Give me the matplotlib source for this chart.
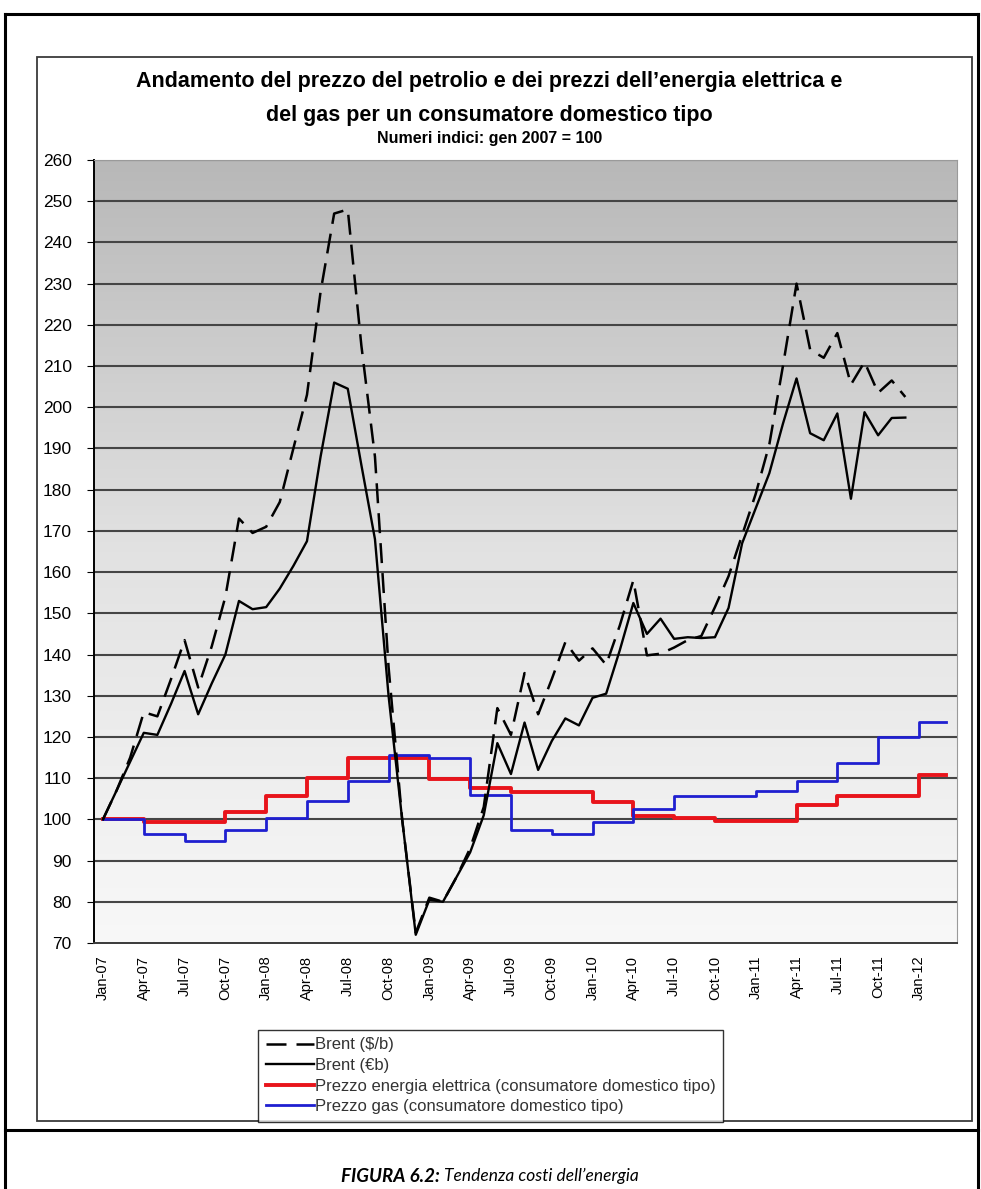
import matplotlib
matplotlib.use("Agg")
import matplotlib.pyplot as plt
import numpy as np
from matplotlib.colors import LinearSegmentedColormap
from matplotlib.lines import Line2D
from matplotlib.patches import Rectangle

W, H = 981, 1189

tick_labels = ["Jan-07", "Apr-07", "Jul-07", "Oct-07", "Jan-08", "Apr-08", "Jul-08",
               "Oct-08", "Jan-09", "Apr-09", "Jul-09", "Oct-09", "Jan-10", "Apr-10",
               "Jul-10", "Oct-10", "Jan-11", "Apr-11", "Jul-11", "Oct-11", "Jan-12"]

# monthly index values, Jan-07 .. Dec-11
brent_usd = [100, 107, 115, 126, 125, 134, 143.5, 132, 142, 154, 173, 169.5,
             171, 177, 190, 203, 228, 247, 248, 215, 188, 137, 100, 72.5,
             81, 80, 86, 93, 103, 127, 120.5, 135.5, 125.5, 134, 143, 138.5,
             141.5, 137.5, 147, 158, 139.8, 140.2, 141.7, 143.5, 144.5, 151.5, 159, 169,
             179, 191, 210, 230, 214, 212, 218, 205.5, 211, 203.5, 206.5, 202.5]
brent_eur = [100, 107, 114, 121, 120.5, 128, 136, 125.5, 133, 140, 153, 151,
             151.5, 156, 161.5, 167.5, 188, 206, 204.5, 186, 168, 130, 100, 72,
             80.5, 80, 86, 92, 101, 118.5, 111, 123.5, 112, 119, 124.5, 122.8,
             129.5, 130.5, 141, 152.5, 145, 148.7, 143.8, 144.2, 144, 144.2, 151.3, 167,
             175.5, 184, 196, 207, 193.7, 192, 198.5, 177.8, 198.8, 193.2, 197.4, 197.5]

# quarterly tariffs, Jan-07 .. Jan-12 (held until Mar-12)
elec_q = [100, 99.4, 99.4, 101.8, 105.6, 110, 114.8, 114.8, 109.8, 107.5, 106.7,
          106.7, 104.2, 100.8, 100.4, 99.6, 99.6, 103.4, 105.6, 105.6, 110.8]
gas_q = [100, 96.5, 94.8, 97.5, 100.3, 104.4, 109.3, 115.7, 114.8, 106, 97.5,
         96.5, 99.4, 102.6, 105.6, 105.6, 107.0, 109.2, 113.6, 120, 123.6]

title_1 = "Andamento del prezzo del petrolio e dei prezzi dell\u2019energia elettrica e"
title_2 = "del gas per un consumatore domestico tipo"
subtitle = "Numeri indici: gen 2007 = 100"


def fx(px):
    return px / W


def fy(py):
    return 1 - py / H


fig = plt.figure(figsize=(W / 100, H / 100), dpi=100)
fig.patch.set_facecolor("white")

# outer table-cell borders
for (x0, y0, x1, y1) in [(5, 14, 978, 14), (5, 14, 5, H), (978, 14, 978, H), (5, 1130, 978, 1130)]:
    fig.add_artist(Line2D([fx(x0), fx(x1)], [fy(y0), fy(y1)], color="black", lw=2.2))

# chart frame
fig.add_artist(Rectangle((fx(37), fy(1121)), fx(972) - fx(37), fy(57) - fy(1121),
                         fill=False, edgecolor="#3a3a3a", lw=1.3))

ax = fig.add_axes([fx(94), fy(943), fx(957) - fx(94), fy(160) - fy(943)])
ax.set_xlim(-0.66, 62.8)
ax.set_ylim(70, 260)

cmap = LinearSegmentedColormap.from_list("bg", ["#f8f8f8", "#e2e2e2", "#b8b8b8"])
grad = np.linspace(0, 1, 256).reshape(-1, 1)
ax.imshow(grad, cmap=cmap, origin="lower", aspect="auto",
          extent=[-0.66, 62.8, 70, 260], zorder=0)

for v in range(80, 261, 10):
    ax.axhline(v, color="#454545", lw=1.5, zorder=1)

months = np.arange(len(brent_usd))
ax.plot(months, brent_usd, color="black", lw=1.8, ls=(0, (8, 4)), zorder=4,
        label="Brent (\\$/b)")
ax.plot(months, brent_eur, color="black", lw=1.7, zorder=4, label="Brent (\u20acb)")

qx = np.arange(0, 3 * len(elec_q), 3)
qx_ext = np.append(qx, 62)
ax.step(qx_ext, elec_q + [elec_q[-1]], where="post", color="#e8141b", lw=2.8, zorder=3,
        label="Prezzo energia elettrica (consumatore domestico tipo)")
ax.step(qx_ext, gas_q + [gas_q[-1]], where="post", color="#1f1fd0", lw=2.0, zorder=3,
        label="Prezzo gas (consumatore domestico tipo)")

ax.set_yticks(range(70, 261, 10))
ax.set_xticks(qx)
ax.set_xticklabels(tick_labels, rotation=90, fontsize=10.5, family="Liberation Sans")
ax.tick_params(axis="x", length=0, pad=9)
ax.tick_params(axis="y", length=5, direction="out", labelsize=12.5, pad=11)
for lab in ax.get_yticklabels():
    lab.set_family("Liberation Sans")
for s in ["top", "right"]:
    ax.spines[s].set_color("#9a9a9a")
ax.spines["left"].set_color("black")
ax.spines["left"].set_linewidth(1.4)
ax.spines["bottom"].set_color("#3a3a3a")
ax.spines["bottom"].set_linewidth(1.4)

fig.text(fx(489), fy(81), title_1, ha="center", va="center", fontsize=15.5,
         fontweight="bold", family="Liberation Sans")
fig.text(fx(489), fy(115), title_2, ha="center", va="center", fontsize=15.5,
         fontweight="bold", family="Liberation Sans")
fig.text(fx(490), fy(138), subtitle, ha="center", va="center", fontsize=11.5,
         fontweight="bold", family="Liberation Sans")

handles, labels = ax.get_legend_handles_labels()
leg = fig.legend(handles, labels, loc="upper left",
                 bbox_to_anchor=(fx(258), fy(1030)),
                 prop={"family": "Liberation Sans", "size": 12},
                 frameon=True, fancybox=False, edgecolor="black",
                 handlelength=2.9, handletextpad=0.05, labelspacing=0.33,
                 borderpad=0.45, borderaxespad=0)
leg.get_frame().set_linewidth(1.0)
for t in leg.get_texts():
    t.set_color("#333333")

fig.text(fx(440), fy(1176), "FIGURA 6.2:", ha="right", va="center", fontsize=13.5,
         fontweight="bold", style="italic", family="Lato")
fig.text(fx(444), fy(1176), "Tendenza costi dell\u2019energia", ha="left", va="center",
         fontsize=12.5, style="italic", family="Lato")

fig.savefig("out.png", dpi=100)
